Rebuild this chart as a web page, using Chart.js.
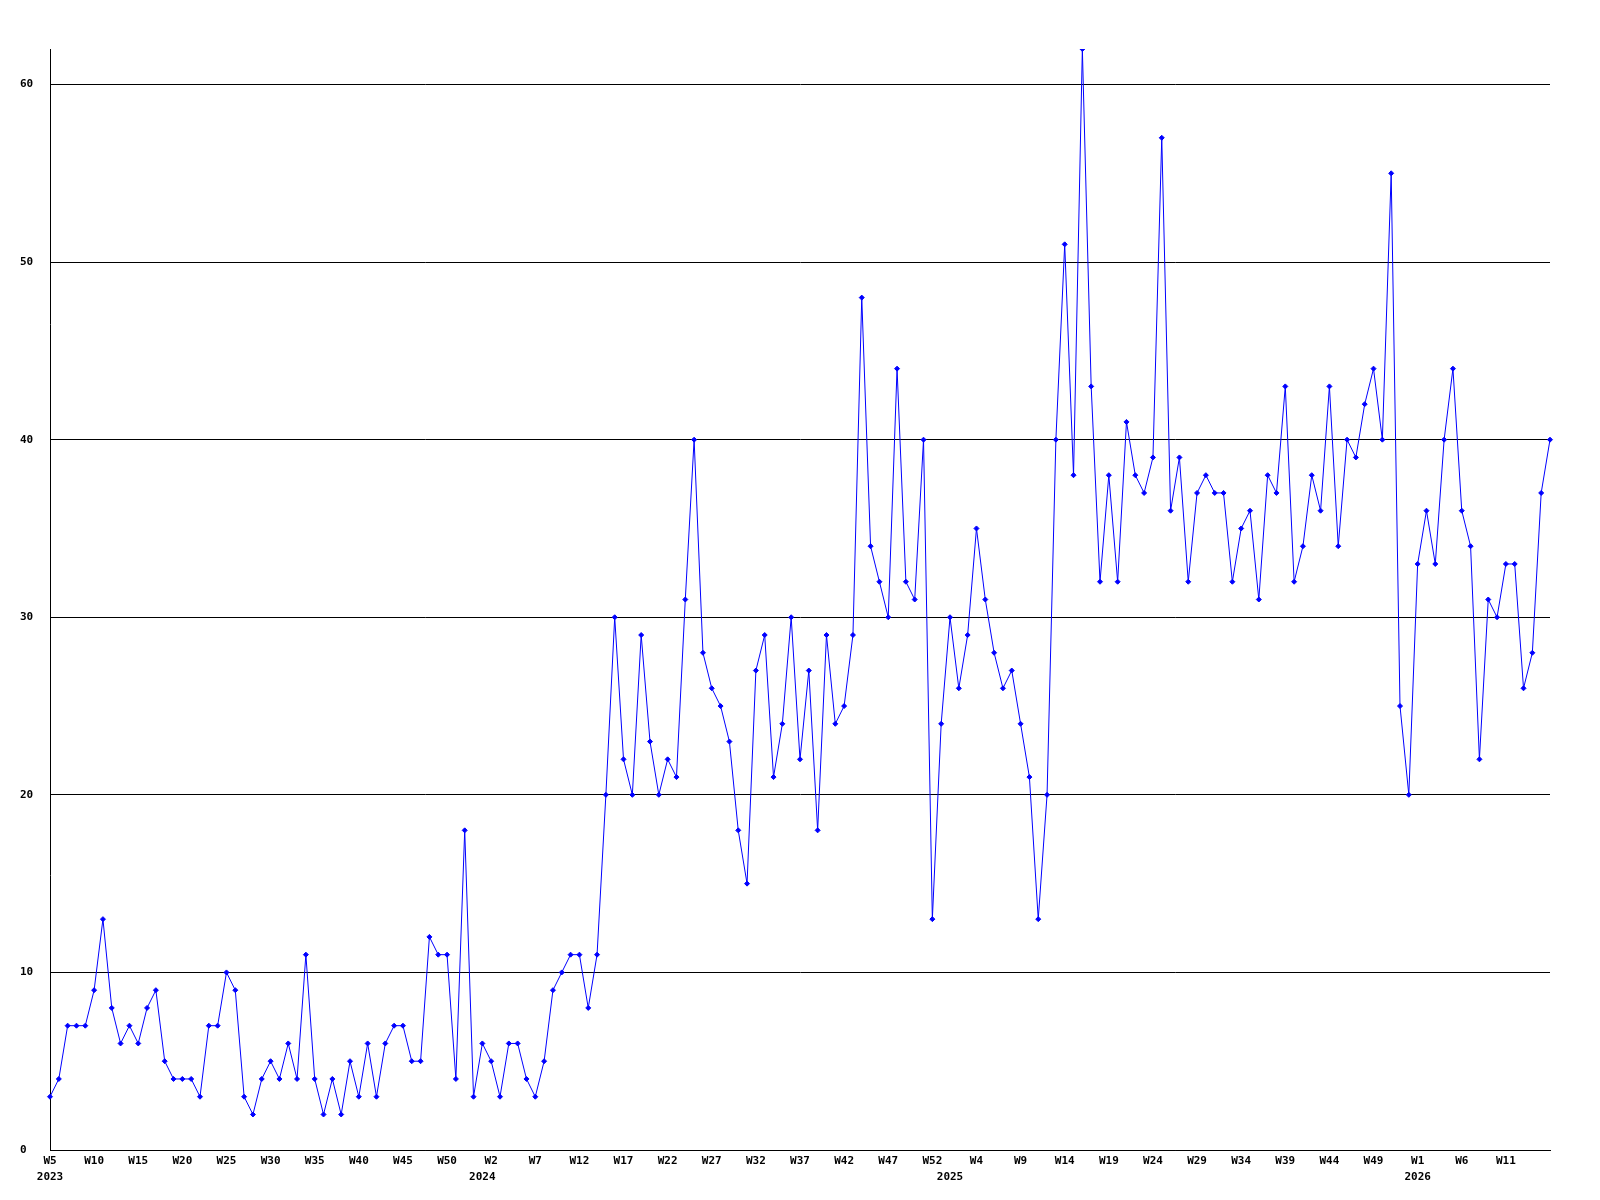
<!DOCTYPE html>
<html>
<head>
<meta charset="utf-8">
<script src="https://cdn.jsdelivr.net/npm/chart.js@4.4.1/dist/chart.umd.min.js"></script>
<style>
  html, body { margin: 0; padding: 0; background: #fff; }
  #weekly { display: block; }
</style>
</head>
<body>
<canvas id="weekly" width="1600" height="1200"></canvas>
<script>
// week ranges shown on the axis: [year, first week, last week]
const weekSpans = [[2023, 5, 53], [2024, 1, 53], [2025, 1, 53], [2026, 1, 16]];

// weekly counts, one array per year
const counts2023 = [3, 4, 7, 7, 7, 9, 13, 8, 6, 7, 6, 8, 9, 5, 4, 4, 4, 3, 7, 7, 10, 9, 3, 2,
                    4, 5, 4, 6, 4, 11, 4, 2, 4, 2, 5, 3, 6, 3, 6, 7, 7, 5, 5, 12, 11, 11, 4, 18, 3];
const counts2024 = [6, 5, 3, 6, 6, 4, 3, 5, 9, 10, 11, 11, 8, 11, 20, 30, 22, 20, 29, 23, 20, 22, 21, 31, 40, 28,
                    26, 25, 23, 18, 15, 27, 29, 21, 24, 30, 22, 27, 18, 29, 24, 25, 29, 48, 34, 32, 30, 44, 32, 31, 40, 13, 24];
const counts2025 = [30, 26, 29, 35, 31, 28, 26, 27, 24, 21, 13, 20, 40, 51, 38, 62, 43, 32, 38, 32, 41, 38, 37, 39, 57, 36,
                    39, 32, 37, 38, 37, 37, 32, 35, 36, 31, 38, 37, 43, 32, 34, 38, 36, 43, 34, 40, 39, 42, 44, 40, 55, 25, 20];
const counts2026 = [33, 36, 33, 40, 44, 36, 34, 22, 31, 30, 33, 33, 26, 28, 37, 40];

const yTicks = [0, 10, 20, 30, 40, 50, 60];
const labelEvery = 5;

const weeks = [];
const years = [];
weekSpans.forEach(function(span) {
    for (let w = span[1]; w <= span[2]; w++) {
        weeks.push(w);
        years.push(span[0]);
    }
});
const categories = weeks.map((w, i) => years[i] + '-W' + w);
const counts = counts2023.concat(counts2024, counts2025, counts2026);

const axisFont = { family: 'DejaVu Sans Mono', size: 11, weight: 'bold', lineHeight: 1.45 };

const ctx = document.getElementById('weekly').getContext('2d');
const weeklyChart = new Chart(ctx, {
    type: 'line',
    data: {
        labels: categories,
        datasets: [{
            data: counts,
            borderColor: '#0000ff',
            borderWidth: 1,
            backgroundColor: '#0000ff',
            pointStyle: 'rectRot',
            pointRadius: 2.5,
            pointBorderWidth: 1,
            pointBackgroundColor: '#0000ff',
            pointBorderColor: '#0000ff',
            tension: 0,
            fill: false
        }]
    },
    options: {
        responsive: false,
        animation: false,
        events: [],
        layout: { padding: { top: 49, right: 50, left: 20, bottom: 0 } },
        plugins: {
            legend: { display: false },
            tooltip: { enabled: false }
        },
        scales: {
            x: {
                type: 'category',
                offset: false,
                grid: { display: false, drawTicks: false },
                border: { display: true, color: '#000000', width: 1 },
                afterFit: function(scale) { scale.height = 50; },
                ticks: {
                    autoSkip: false,
                    maxRotation: 0,
                    minRotation: 0,
                    padding: 3,
                    color: '#000000',
                    font: axisFont,
                    callback: function(value, index) {
                        // the last week label would run past the plot edge, so it is left out
                        const isLast = index === weeks.length - 1;
                        const week = (index % labelEvery === 0 && !isLast) ? 'W' + weeks[index] : '';
                        const year = (index === 0 || weeks[index] === 1) ? String(years[index]) : '';
                        if (!week && !year) return '';
                        return year ? [week, year] : week;
                    }
                }
            },
            y: {
                min: 0,
                max: 62,
                grid: { color: '#000000', lineWidth: 1, drawTicks: false },
                border: { display: true, color: '#000000', width: 1 },
                afterFit: function(scale) { scale.width = 30; },
                afterBuildTicks: function(scale) {
                    scale.ticks = yTicks.map(v => ({ value: v }));
                },
                ticks: {
                    crossAlign: 'far',
                    color: '#000000',
                    font: axisFont
                }
            }
        }
    }
});
</script>
</body>
</html>
